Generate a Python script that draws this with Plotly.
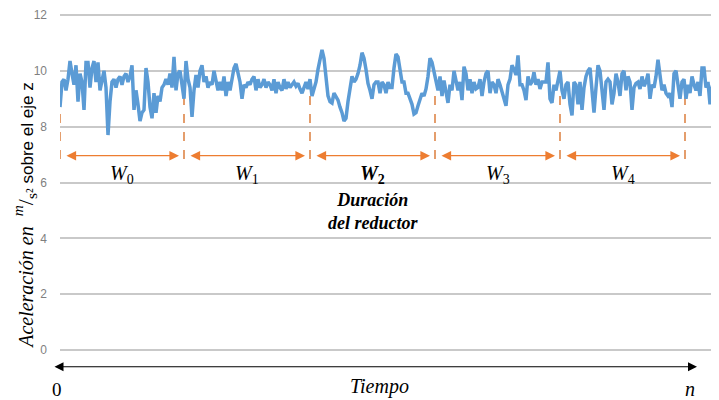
import plotly.graph_objects as go

# ---------------- data ----------------
acc_w0 = [8.7, 9.6, 9.7, 9.3, 9.7, 10.35, 9.9, 9.5, 10.2, 8.9, 9.9, 9.6, 8.6, 10.3, 10.3, 9.4,
          10.1, 10.35, 9.6, 10.3, 9.3, 9.7, 10.0, 9.4, 7.7, 8.9, 9.6, 9.7, 9.4, 9.7, 9.8, 9.5,
          9.8, 9.9, 9.6, 9.8, 10.2, 8.6, 9.3, 8.8, 8.2, 8.5, 8.6, 10.1, 9.6, 8.7, 8.3, 9.2,
          8.5, 9.1, 8.9, 9.4, 9.5,
          9.7, 9.5, 9.9, 9.4, 10.5, 9.3, 9.9, 10.0, 9.5, 9.0]
acc_w1 = [10.35, 9.7, 9.4, 8.35, 9.3, 9.85, 9.4, 10.0, 10.2, 9.6, 9.8, 9.4, 9.6, 9.5, 10.0,
          9.7, 9.3, 9.6, 9.3, 9.8, 9.1, 9.6, 9.3, 9.7, 10.1, 10.25, 9.9, 9.6, 9.0, 9.5, 9.4,
          9.6, 9.5, 9.7, 9.8, 9.3, 9.7, 9.4, 9.5, 9.7, 9.4, 9.6, 9.5,
          9.3, 9.7, 9.2, 9.6, 9.4, 9.3, 9.7, 9.35, 9.6, 9.4, 9.5, 9.6, 9.45, 9.55, 9.35,
          9.2, 9.4, 9.6, 9.35, 9.7, 9.1]
acc_w2 = [9.35, 9.6, 10.05, 10.4, 10.75, 10.45, 9.7, 9.1, 8.9, 8.85, 9.2, 9.1, 8.95, 8.7,
          8.5, 8.2, 8.3, 8.9, 9.4, 9.8, 9.6, 9.7, 9.9, 10.2, 10.65, 10.45, 10.05, 9.55, 9.3,
          9.0, 9.5, 9.6,
          9.6, 9.2, 9.6, 9.5, 9.2, 9.6, 9.4, 9.4, 10.1, 10.6, 10.5, 10.0, 9.6, 9.6, 9.2, 9.2,
          9.0, 8.8, 8.45, 8.5, 8.75, 8.95, 9.2, 9.1, 9.35, 9.8, 10.45, 10.3, 10.0]
acc_w3 = [9.7, 9.3, 9.8, 9.1, 9.65, 9.3, 8.85, 9.5, 9.3, 10.0, 9.7, 9.3, 9.6, 8.95, 10.15,
          9.9, 9.3, 9.7, 9.2, 9.6, 9.35, 9.4, 9.7,
          9.1, 9.6, 9.9, 10.0, 9.2, 9.6, 9.5, 9.2, 9.7, 9.5, 9.2, 9.0, 8.75, 9.5, 9.7, 10.2,
          10.05, 9.85, 10.55, 9.5, 9.5, 9.3, 8.95, 9.8, 9.5, 9.6, 9.95, 9.5, 9.7, 9.35, 9.6,
          9.6, 9.6, 10.3, 9.0, 8.85, 9.5, 9.3, 9.7, 10.0]
acc_w4 = [9.3, 9.0, 9.5, 9.6, 8.8, 8.4, 9.6, 9.5, 8.8, 9.6, 8.6, 9.4, 9.8,
          10.0, 10.1, 9.2, 8.5, 9.4, 10.2, 10.0, 9.3, 8.6, 9.6, 9.7, 9.6, 8.8, 9.2, 9.9, 9.6,
          9.1, 9.9, 10.0, 9.3, 9.8, 9.6, 8.6, 9.4, 9.55, 9.6, 9.35, 9.8, 9.45, 9.6, 9.9, 9.0,
          9.5, 9.4, 9.8, 10.4, 9.7, 9.3, 9.5, 9.2, 9.1, 9.2, 8.7, 9.9, 10.0, 9.5, 9.0, 9.6,
          9.7]
acc_tail = [9.0, 9.5, 9.2, 9.8, 9.5, 9.3, 9.6, 9.1, 10.1, 10.1, 9.4, 9.6, 8.8, 9.4, 9.7,
            9.2, 9.4, 9.3]
acceleration = acc_w0 + acc_w1 + acc_w2 + acc_w3 + acc_w4 + acc_tail
samples = list(range(len(acceleration)))

window_edges = [0, 62, 125, 187.5, 250, 312.5]
window_labels = ["<i>W</i><sub>0</sub>", "<i>W</i><sub>1</sub>", "<b><i>W</i></b><sub><b>2</b></sub>",
                 "<i>W</i><sub>3</sub>", "<i>W</i><sub>4</sub>"]
y_ticks = [0, 2, 4, 6, 8, 10, 12]

# ---------------- figure ----------------
BLUE = "#5B9BD5"
ORANGE = "#ED7D31"
SERIF = "Liberation Serif, DejaVu Serif, serif"
SANS = "Liberation Sans, Arial, sans-serif"

fig = go.Figure()
fig.add_trace(go.Scatter(x=samples, y=acceleration, mode="lines",
                         line=dict(color=BLUE, width=3.5), hoverinfo="skip",
                         showlegend=False))

shapes = []
annotations = []
for e in window_edges:
    shapes.append(dict(type="line", xref="x", yref="y", x0=e, x1=e, y0=9.1, y1=6.75,
                       line=dict(color="#D9752F", width=1.4, dash="dash"), layer="below"))

for i in range(len(window_edges) - 1):
    a, b = window_edges[i], window_edges[i + 1]
    annotations.append(dict(x=b - 2.5, y=6.96, ax=a + 2.5, ay=6.96, xref="x", yref="y",
                            axref="x", ayref="y", text="", showarrow=True,
                            arrowhead=2, startarrowhead=2, arrowside="end+start",
                            arrowsize=1.6, startarrowsize=1.6, arrowwidth=1.2,
                            arrowcolor=ORANGE))
    annotations.append(dict(x=(a + b) / 2, y=6.27, xref="x", yref="y", text=window_labels[i],
                            showarrow=False, font=dict(family=SERIF, size=20, color="#000")))

annotations.append(dict(x=(window_edges[2] + window_edges[3]) / 2, y=4.95, xref="x", yref="y",
                        text="<b><i>Duración</i></b><br><b><i>del reductor</i></b>",
                        showarrow=False, align="center",
                        font=dict(family=SERIF, size=18, color="#000")))

# bottom time arrow
annotations.append(dict(x=318.5, y=-0.6, ax=-3.5, ay=-0.6, xref="x", yref="y",
                        axref="x", ayref="y", text="", showarrow=True,
                        arrowhead=2, startarrowhead=2, arrowside="end+start",
                        arrowsize=1.5, startarrowsize=1.5, arrowwidth=1.2, arrowcolor="#000"))
annotations.append(dict(x=-0.005, y=-1.4, xref="paper", yref="y", text="0", showarrow=False,
                        xanchor="center", font=dict(family=SERIF, size=19, color="#000")))
annotations.append(dict(x=159.5, y=-1.3, xref="x", yref="y", text="<i>Tiempo</i>",
                        showarrow=False, font=dict(family=SERIF, size=20, color="#000")))
annotations.append(dict(x=315, y=-1.4, xref="x", yref="y", text="<i>n</i>",
                        showarrow=False, font=dict(family=SERIF, size=20, color="#000")))

# y axis title
annotations.append(dict(x=-0.053, y=0.47, xref="paper", yref="paper", textangle=-90,
                        xanchor="center", yanchor="middle", showarrow=False,
                        text=("<i>Aceleración en </i> <span style='font-size:22px'><sup><i>m</i></sup>/<sub>s²</sub></span> "
                              "<span style='font-family:Liberation Sans, Arial, sans-serif;font-size:17px'>sobre el eje z</span>"),
                        font=dict(family=SERIF, size=20, color="#000")))

# page body has an 8px margin: figure is sized/offset to compensate
fig.update_layout(
    width=711, height=392,
    margin=dict(l=52, r=0, t=0, b=0),
    plot_bgcolor="white", paper_bgcolor="white",
    shapes=shapes, annotations=annotations,
    xaxis=dict(range=[0, 329.5], showgrid=False, zeroline=False, showticklabels=False,
               ticks="", showline=False),
    yaxis=dict(range=[-1.79, 12.25], tickvals=y_ticks, showgrid=True, gridcolor="#C9C9C9",
               gridwidth=1.5, zeroline=False, showline=False, ticks="",
               ticklabelstandoff=12,
               tickfont=dict(family=SANS, size=12, color="#7F7F7F")),
)

fig.write_html("out.html")
